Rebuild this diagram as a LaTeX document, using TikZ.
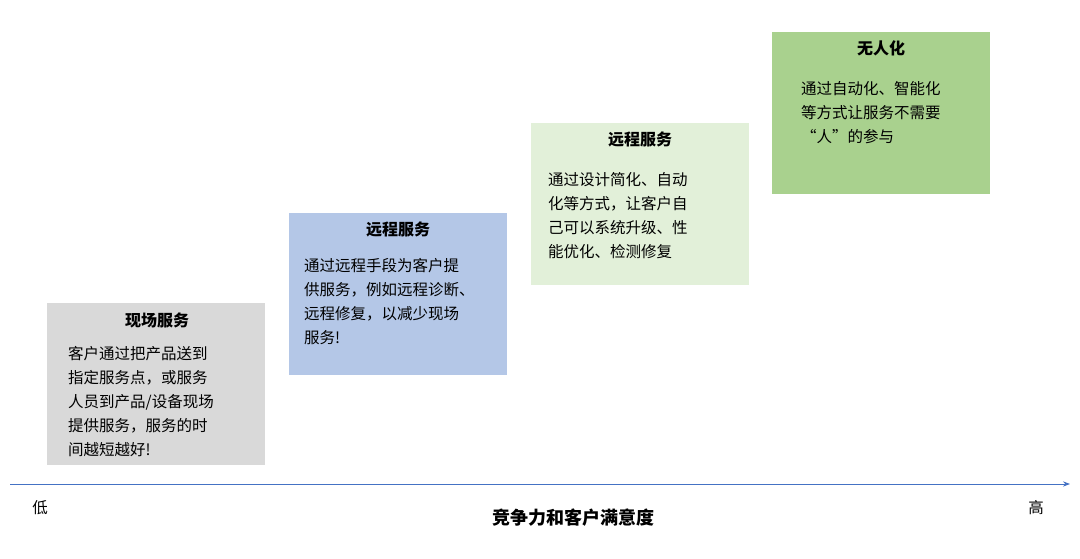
\documentclass[tikz,border=0pt]{standalone}
\usepackage{fontspec}
\setmainfont{Noto Sans CJK SC}
\usetikzlibrary{arrows.meta}
\definecolor{g1}{HTML}{D9D9D9}
\definecolor{b1}{HTML}{B4C7E7}
\definecolor{lg}{HTML}{E2F0D9}
\definecolor{g2}{HTML}{A9D18E}
\definecolor{ax}{HTML}{4472C4}
\tikzset{box/.style={inner sep=0pt,minimum width=218pt,minimum height=162pt,anchor=north west},
 ttl/.style={font=\fontsize{16}{20}\selectfont\bfseries,anchor=center},
 body/.style={font=\fontsize{15.5}{24}\selectfont,align=left,anchor=north west,inner sep=0pt}}
\begin{document}
\begin{tikzpicture}[x=1pt,y=-1pt]
\useasboundingbox (0,0) rectangle (1080,559);
\node[box,fill=g1] (b1) at (47,303) {};
\node[ttl] (t1) at (157,320) {现场服务};
\node[body] (d1) at (68,346) {客户通过把产品送到\\指定服务点，或服务\\人员到产品/设备现场\\提供服务，服务的时\\间越短越好!};
\node[box,fill=b1] (b2) at (289,213) {};
\node[ttl] (t2) at (398,229) {远程服务};
\node[body] (d2) at (304,258) {通过远程手段为客户提\\供服务，例如远程诊断、\\远程修复，以减少现场\\服务!};
\node[box,fill=lg] (b3) at (531,123) {};
\node[ttl] (t3) at (640,139) {远程服务};
\node[body] (d3) at (548,172) {通过设计简化、自动\\化等方式，让客户自\\己可以系统升级、性\\能优化、检测修复};
\node[box,fill=g2] (b4) at (772,32) {};
\node[ttl] (t4) at (881,48) {无人化};
\node[body] (d4) at (801,81) {通过自动化、智能化\\等方式让服务不需要\\“人”的参与};
\coordinate (a0) at (10,484);
\coordinate (a1) at (1070,484);
\draw[ax,line width=1pt,-{Stealth[length=7pt]}] (a0) -- (a1);
\node[font=\fontsize{15.5}{20}\selectfont] (lo) at (40,508) {低};
\node[font=\fontsize{15.5}{20}\selectfont] (hi) at (1036,508) {高};
\node[font=\fontsize{18}{22}\selectfont\bfseries] (xl) at (573,518) {竞争力和客户满意度};
\end{tikzpicture}
\end{document}
